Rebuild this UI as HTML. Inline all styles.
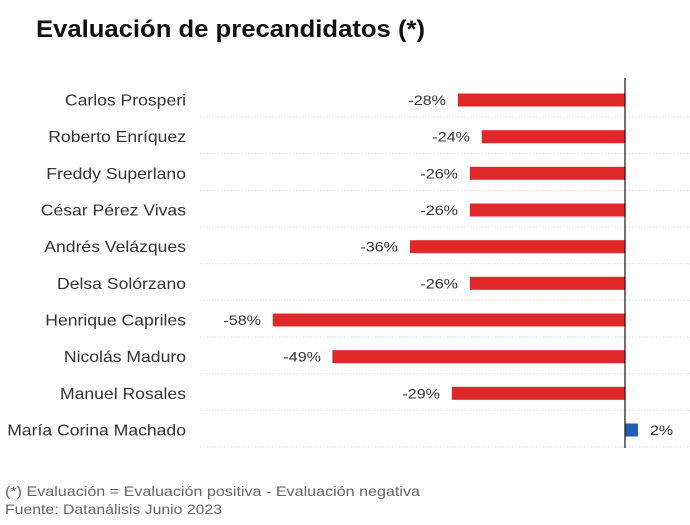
<!DOCTYPE html>
<html><head><meta charset="utf-8"><style>body{margin:0;background:#fff}svg{display:block}</style></head>
<body>
<svg width="690" height="525" xmlns="http://www.w3.org/2000/svg" font-family="'Liberation Sans', sans-serif">
<text x="36" y="37" font-size="24" font-weight="bold" fill="#111" textLength="389" lengthAdjust="spacingAndGlyphs">Evaluación de precandidatos (*)</text>
<g stroke="#ddd" stroke-dasharray="1.5,1.5" stroke-width="1">
<line x1="200" x2="690" y1="117" y2="117"/><line x1="200" x2="690" y1="153.7" y2="153.7"/>
<line x1="200" x2="690" y1="190.3" y2="190.3"/><line x1="200" x2="690" y1="227" y2="227"/>
<line x1="200" x2="690" y1="263.7" y2="263.7"/><line x1="200" x2="690" y1="300.3" y2="300.3"/>
<line x1="200" x2="690" y1="337" y2="337"/><line x1="200" x2="690" y1="373.7" y2="373.7"/>
<line x1="200" x2="690" y1="410.3" y2="410.3"/><line x1="200" x2="690" y1="447" y2="447"/>
</g>
<g fill="#e0282b">
<rect x="457.8" y="93.5" width="167.2" height="13"/>
<rect x="481.7" y="130.2" width="143.3" height="13"/>
<rect x="469.8" y="166.8" width="155.2" height="13"/>
<rect x="469.8" y="203.5" width="155.2" height="13"/>
<rect x="410" y="240.2" width="215" height="13"/>
<rect x="469.8" y="276.8" width="155.2" height="13"/>
<rect x="272.7" y="313.5" width="352.3" height="13"/>
<rect x="332.4" y="350.2" width="292.6" height="13"/>
<rect x="451.8" y="386.8" width="173.2" height="13"/>
</g>
<rect x="625" y="423.5" width="13" height="13" fill="#1f5fb8"/>
<line x1="625" x2="625" y1="78" y2="448" stroke="#111" stroke-width="1.2"/>
<g font-size="16" fill="#333" text-anchor="end" transform="translate(186,0) scale(1.1,1) translate(-186,0)">
<text x="186" y="105.5">Carlos Prosperi</text>
<text x="186" y="142.2">Roberto Enríquez</text>
<text x="186" y="178.8">Freddy Superlano</text>
<text x="186" y="215.5">César Pérez Vivas</text>
<text x="186" y="252.2">Andrés Velázques</text>
<text x="186" y="288.8">Delsa Solórzano</text>
<text x="186" y="325.5">Henrique Capriles</text>
<text x="186" y="362.2">Nicolás Maduro</text>
<text x="186" y="398.8">Manuel Rosales</text>
<text x="186" y="435.5">María Corina Machado</text>
</g>
<g font-size="14" fill="#333" text-anchor="end">
<text x="446" y="105" transform="translate(446,0) scale(1.15,1) translate(-446,0)">-28%</text>
<text x="470" y="141.7" transform="translate(470,0) scale(1.15,1) translate(-470,0)">-24%</text>
<text x="458" y="178.3" transform="translate(458,0) scale(1.15,1) translate(-458,0)">-26%</text>
<text x="458" y="215" transform="translate(458,0) scale(1.15,1) translate(-458,0)">-26%</text>
<text x="398" y="251.7" transform="translate(398,0) scale(1.15,1) translate(-398,0)">-36%</text>
<text x="458" y="288.3" transform="translate(458,0) scale(1.15,1) translate(-458,0)">-26%</text>
<text x="261" y="325" transform="translate(261,0) scale(1.15,1) translate(-261,0)">-58%</text>
<text x="321" y="361.7" transform="translate(321,0) scale(1.15,1) translate(-321,0)">-49%</text>
<text x="440" y="398.3" transform="translate(440,0) scale(1.15,1) translate(-440,0)">-29%</text>
</g>
<text x="650" y="435" font-size="14" fill="#333" transform="translate(650,0) scale(1.15,1) translate(-650,0)">2%</text>
<text x="5" y="496" font-size="14" fill="#666" textLength="415" lengthAdjust="spacingAndGlyphs">(*) Evaluación = Evaluación positiva - Evaluación negativa</text>
<text x="5" y="514" font-size="14" fill="#666" textLength="217" lengthAdjust="spacingAndGlyphs">Fuente: Datanálisis Junio 2023</text>
</svg>
</body></html>
